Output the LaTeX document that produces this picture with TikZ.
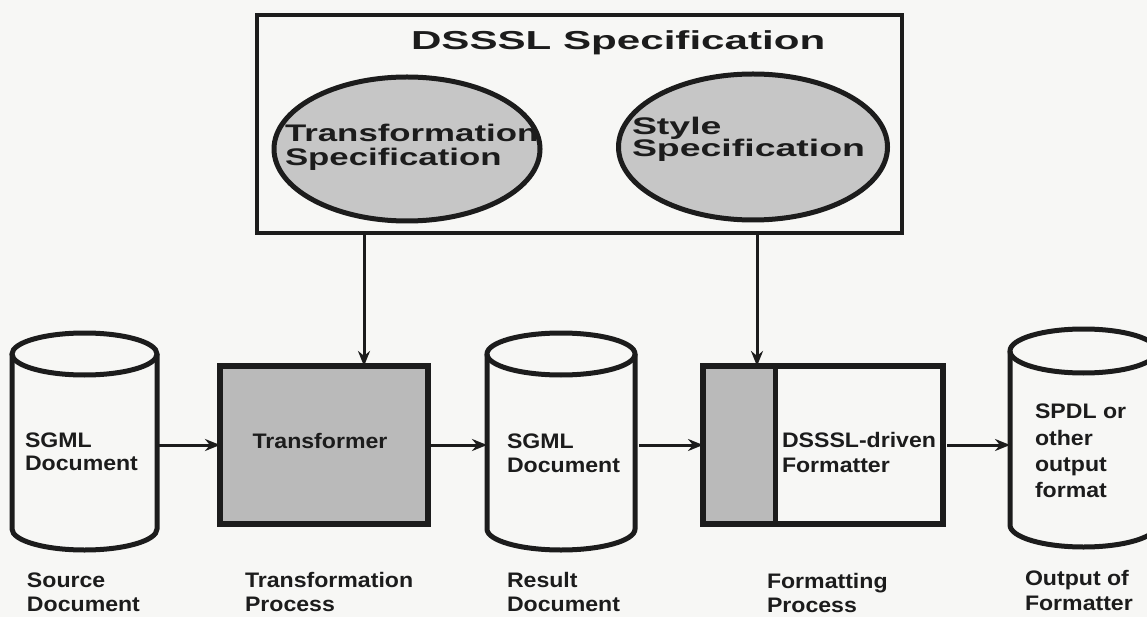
\documentclass[tikz,border=0pt]{standalone}
\usepackage{fontspec}
\setmainfont{Liberation Sans}
\newfontfamily\titlefam[FakeStretch=1.62]{Liberation Sans}
\newfontfamily\ovalfamA[FakeStretch=1.45]{Liberation Sans}
\newfontfamily\ovalfamB[FakeStretch=1.56]{Liberation Sans}
\newfontfamily\labelfam[FakeStretch=1.1]{Liberation Sans}
\usetikzlibrary{shapes.geometric, arrows.meta, calc}

\definecolor{paper}{RGB}{247,247,245}
\definecolor{ink}{RGB}{28,28,28}
\definecolor{greyfill}{RGB}{186,186,186}
\definecolor{greyfilllt}{RGB}{198,198,198}

\tikzset{
  every node/.style={inner sep=0pt, outer sep=0pt, text=ink},
  arr/.style={line width=3pt, draw=ink, -{Stealth[length=15pt,width=12pt]}},
  heavy/.style={line width=5.5pt, draw=ink},
  drumline/.style={line width=5pt, draw=ink},
  oval/.style={ellipse, draw=ink, line width=5pt, fill=greyfilllt},
  ghost/.style={draw=none, fill=none},
  ttl/.style={anchor=base west, font=\titlefam\bfseries\fontsize{26}{30}\selectfont},
  ovA/.style={anchor=base west, font=\ovalfamA\bfseries\fontsize{24}{28}\selectfont},
  ovB/.style={anchor=base west, font=\ovalfamB\bfseries\fontsize{24}{28}\selectfont},
  lbl/.style={anchor=base west, font=\labelfam\bfseries\fontsize{21}{25}\selectfont},
}

\begin{document}
\begin{tikzpicture}[x=1pt, y=-1pt]
  \path[use as bounding box, fill=paper] (0,0) rectangle (1147,617);

  % DSSSL specification frame with its two component ovals
  \node[draw=ink, line width=4.5pt, minimum width=645pt, minimum height=218pt] (spec) at (579.5,124) {};
  \node[ttl] (title) at (411,50) {DSSSL Specification};
  \node[oval, minimum width=266pt, minimum height=144pt] (tspec) at (407,149) {};
  \node[oval, minimum width=269pt, minimum height=146pt] (sspec) at (753,147) {};
  \node[ovA] (tspec1) at (285,142) {Transformation};
  \node[ovA] (tspec2) at (285,166) {Specification};
  \node[ovB] (sspec1) at (632,135) {Style};
  \node[ovB] (sspec2) at (632,157) {Specification};

  % source document drum
  \draw[drumline] (12,354) -- (12,529) arc[start angle=180, end angle=0, x radius=72.5, y radius=21] -- (157,354);
  \draw[drumline] (84.5,354) ellipse [x radius=72.5, y radius=21];
  \node[ghost, minimum width=145pt, minimum height=196pt] (src) at (84.5,445) {};
  \node[lbl] (src1) at (25,447) {SGML};
  \node[lbl] (src2) at (25,470) {Document};

  % transformer
  \node[heavy, fill=greyfill, minimum width=208pt, minimum height=158pt] (trans) at (324,445) {};
  \node[anchor=base, font=\labelfam\bfseries\fontsize{21}{25}\selectfont] (trans1) at (320,448) {Transformer};

  % result document drum
  \draw[drumline] (487,354) -- (487,529) arc[start angle=180, end angle=0, x radius=74, y radius=21] -- (635,354);
  \draw[drumline] (561,354) ellipse [x radius=74, y radius=21];
  \node[ghost, minimum width=148pt, minimum height=196pt] (res) at (561,445) {};
  \node[lbl] (res1) at (507,448) {SGML};
  \node[lbl] (res2) at (507,472) {Document};

  % formatter with shaded DSSSL-driven strip
  \node[heavy, minimum width=240pt, minimum height=158pt,
        path picture={\fill[greyfill] (path picture bounding box.north west) rectangle ([xshift=72pt]path picture bounding box.south west);}]
        (fmt) at (823,445) {};
  \draw[line width=5pt, draw=ink] ([xshift=72pt]fmt.north west) -- ([xshift=72pt]fmt.south west);
  \node[lbl] (fmt1) at (782,447) {DSSSL-driven};
  \node[lbl] (fmt2) at (782,472) {Formatter};

  % output drum
  \draw[drumline] (1010,351) -- (1010,525) arc[start angle=180, end angle=0, x radius=73.5, y radius=22] -- (1157,351);
  \draw[drumline] (1083.5,351) ellipse [x radius=73.5, y radius=22];
  \node[ghost, minimum width=147pt, minimum height=196pt] (out) at (1083.5,445) {};
  \node[lbl] (out1) at (1035,418) {SPDL or};
  \node[lbl] (out2) at (1035,445) {other};
  \node[lbl] (out3) at (1035,471) {output};
  \node[lbl] (out4) at (1035,497) {format};

  % captions
  \node[lbl] (cap1a) at (27,587) {Source};
  \node[lbl] (cap1b) at (27,611) {Document};
  \node[lbl] (cap2a) at (245,587) {Transformation};
  \node[lbl] (cap2b) at (245,611) {Process};
  \node[lbl] (cap3a) at (507,587) {Result};
  \node[lbl] (cap3b) at (507,611) {Document};
  \node[lbl] (cap4a) at (767,588) {Formatting};
  \node[lbl] (cap4b) at (767,612) {Process};
  \node[lbl] (cap5a) at (1025,585) {Output of};
  \node[lbl] (cap5b) at (1025,610) {Formatter};

  % flow arrows
  \coordinate (ta) at ([xshift=144pt]trans.north west);
  \coordinate (fa) at ([xshift=54pt]fmt.north west);
  \draw[arr] (ta |- spec.south) -- (ta);
  \draw[arr] (fa |- spec.south) -- (fa);
  \draw[arr] (src.east) -- (trans.west);
  \draw[arr] (trans.east) -- (res.west);
  \draw[arr, shorten <=4pt] (res.east) -- (fmt.west);
  \draw[arr, shorten <=4pt] (fmt.east) -- (out.west);
\end{tikzpicture}
\end{document}
